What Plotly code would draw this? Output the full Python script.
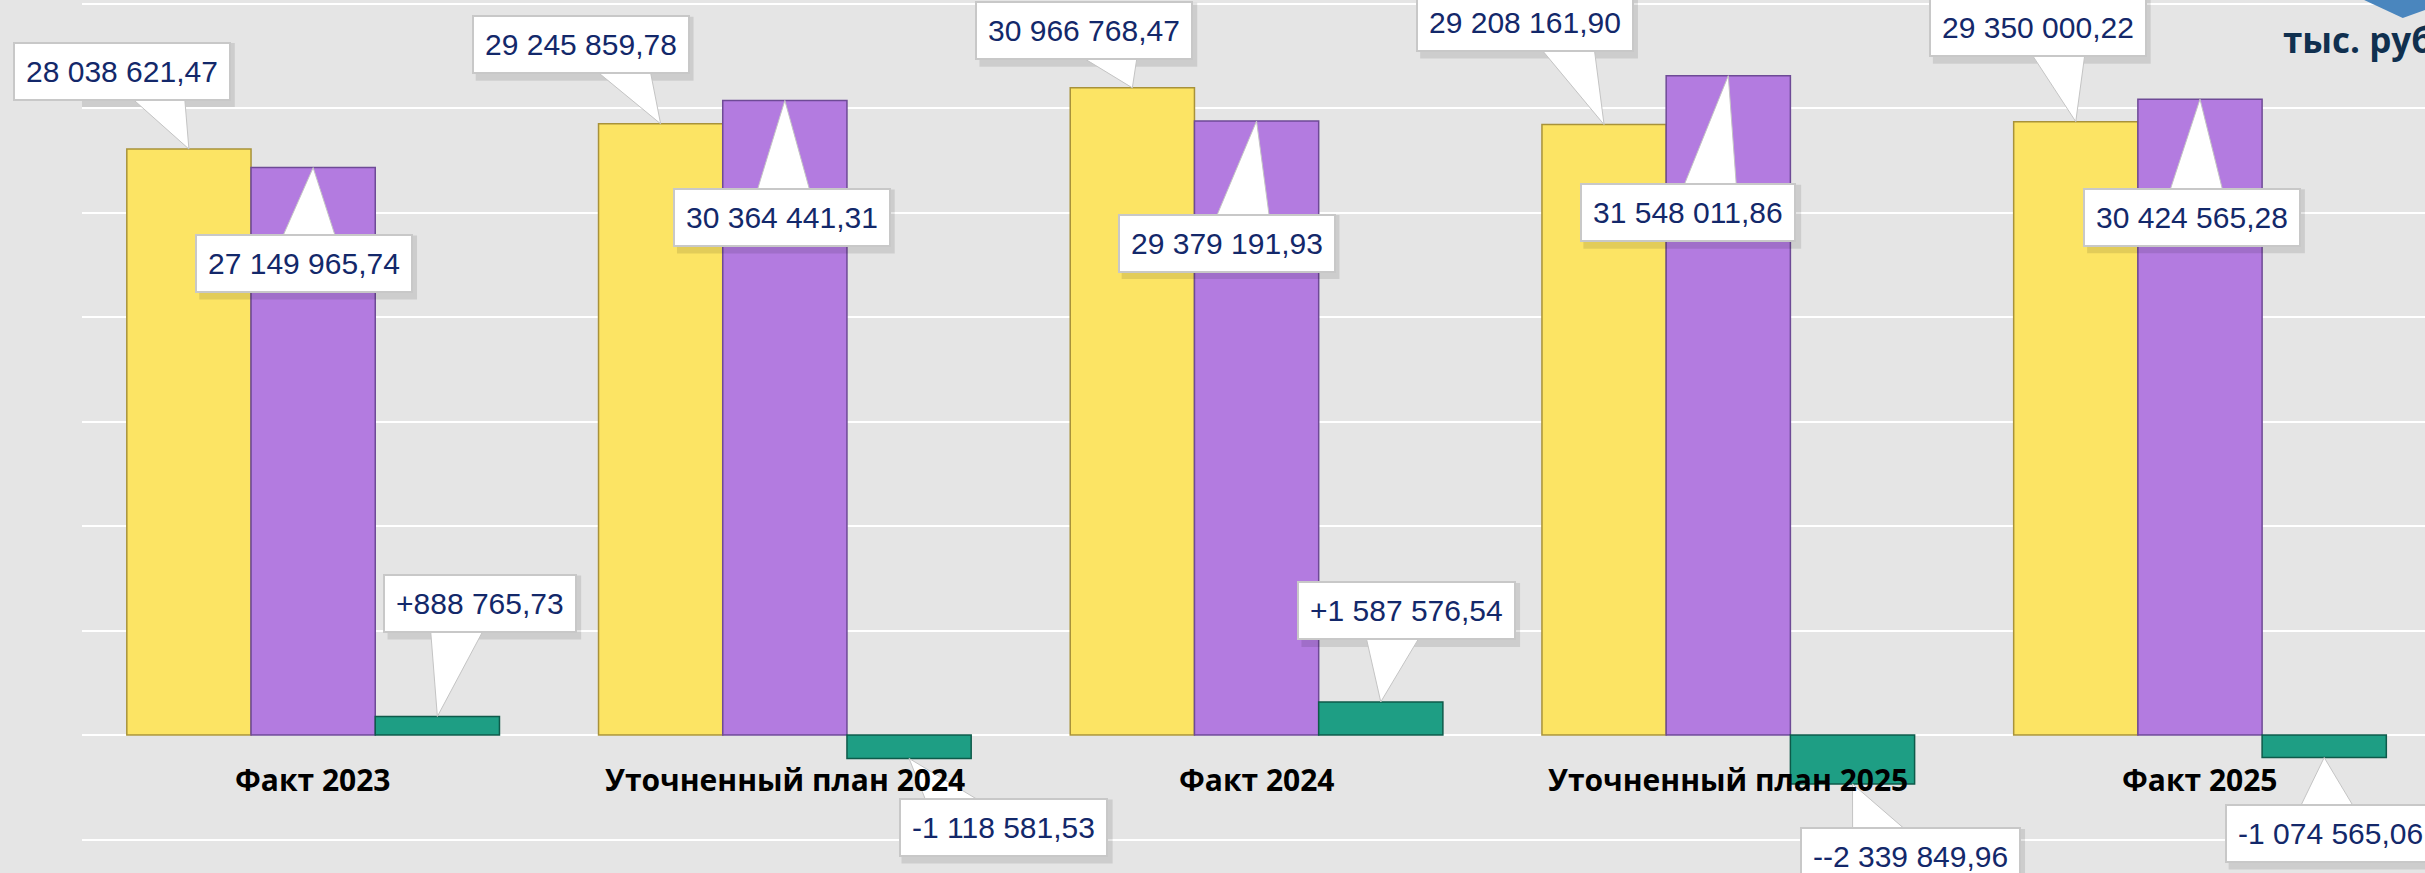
#доходы / расходы / дефицит-профицит, тыс. руб.
import plotly.graph_objects as go

categories = ["Факт 2023", "Уточненный план 2024", "Факт 2024", "Уточненный план 2025", "Факт 2025"]
income = [28038621.47, 29245859.78, 30966768.47, 29208161.90, 29350000.22]
expense = [27149965.74, 30364441.31, 29379191.93, 31548011.86, 30424565.28]
balance = [888765.73, -1118581.53, 1587576.54, -2339849.96, -1074565.06]
balance_labels = ["+888 765,73", "-1 118 581,53", "+1 587 576,54", "--2 339 849,96", "-1 074 565,06"]
unit_label = "тыс. руб."


def fmt(v):
    s = f"{v:,.2f}"
    return s.replace(",", " ").replace(".", ",")


# rough width of a label in Liberation Sans, em units
def text_em(t):
    return sum(0.556 if ch.isdigit() else 0.584 if ch == "+" else 0.333 if ch == "-" else 0.278 for ch in t)


# callout offsets (pixels from bar end to box centre)
income_off = [(-67, -78), (-80, -79), (-48, -57), (-79, -102), (-38, -94)]
expense_off = [(-9, 96), (-3, 117), (-30, 122), (-40, 137), (-8, 118)]
balance_off = [(43, -113), (94, 69), (26, -91), (58, 73), (6, 76)]

bargap = 0.21
w = (1 - bargap) / 3
colors = ["#FCE464", "#B37BE0", "#1E9E84"]
edges = ["#A8923A", "#6E4A96", "#0E5A4A"]

fig = go.Figure()
for vals, c, e in zip([income, expense, balance], colors, edges):
    fig.add_trace(go.Bar(x=categories, y=vals, marker=dict(color=c, line=dict(color=e, width=1.5)),
                         hoverinfo="skip", showlegend=False))

fsize = 30
label_font = dict(family="Liberation Sans, Arial, sans-serif", size=fsize, color="#13286A")
hh, hw = 32, 112
series = [(income, [fmt(v) for v in income], income_off, -w),
          (expense, [fmt(v) for v in expense], expense_off, 0),
          (balance, balance_labels, balance_off, w)]
for vals, texts, offs, dx in series:
    for i, (v, t, (ax, ay)) in enumerate(zip(vals, texts, offs)):
        xpos = i + dx
        # box shadow
        bw = text_em(t) * fsize / 2 + 13
        fig.add_shape(type="rect", xref="x", yref="y", xsizemode="pixel", ysizemode="pixel",
                      xanchor=xpos, yanchor=v, x0=ax - bw + 4, x1=ax + bw + 4,
                      y0=-ay - hh - 4, y1=-ay + hh - 4,
                      fillcolor="rgba(0,0,0,0.10)", line=dict(width=0), layer="above")
        # wedge of the callout
        by = ay + hh - 4 if ay < 0 else ay - hh + 4
        bx = max(ax - hw + 30, min(ax + hw - 30, ax * 0.45))
        fig.add_shape(type="path", xref="x", yref="y", xsizemode="pixel", ysizemode="pixel",
                      xanchor=xpos, yanchor=v,
                      path=f"M 0,0 L {bx - 26},{-by} L {bx + 26},{-by} Z",
                      fillcolor="white", line=dict(color="#C4C4C4", width=1), layer="above")
        fig.add_annotation(x=xpos, y=v, text=t, ax=ax, ay=ay, showarrow=True,
                           arrowcolor="rgba(0,0,0,0)", xanchor="center", yanchor="middle",
                           bgcolor="white", bordercolor="#C8C8C8", borderwidth=2, borderpad=11,
                           font=label_font)

for i, c in enumerate(categories):
    fig.add_annotation(x=i, y=0, text=f"<b>{c}</b>", showarrow=False, yshift=-44,
                       xanchor="center", yanchor="middle",
                       font=dict(family="Open Sans", size=30, color="black"))

fig.add_annotation(xref="paper", yref="paper", x=2276 / 2425, y=1 - 40 / 873, text=f"<b>{unit_label}</b>",
                   showarrow=False, xanchor="left", yanchor="middle",
                   font=dict(family="Open Sans", size=35, color="#10304F"))
fig.add_shape(type="path", xref="paper", yref="paper",
              path=f"M {2362/2425},1 L 1,1 L 1,{1-10/873} L {2402/2425},{1-18/873} Z",
              fillcolor="#4A86BE", line=dict(width=0))

fig.update_layout(
    width=2425, height=873, barmode="group", bargap=bargap, bargroupgap=0,
    margin=dict(l=82, r=0, t=0, b=0),
    paper_bgcolor="#E5E5E5", plot_bgcolor="rgba(0,0,0,0)",
    xaxis=dict(range=[-0.49, 4.477], showticklabels=False, showgrid=False, zeroline=False),
    yaxis=dict(range=[-6.6e6, 35.17e6], dtick=5e6, showticklabels=False, gridcolor="white",
               gridwidth=2, zeroline=True, zerolinecolor="white", zerolinewidth=2),
)
fig.write_html("out.html", config={"displayModeBar": False},
               post_script="document.body.style.margin='0';")
